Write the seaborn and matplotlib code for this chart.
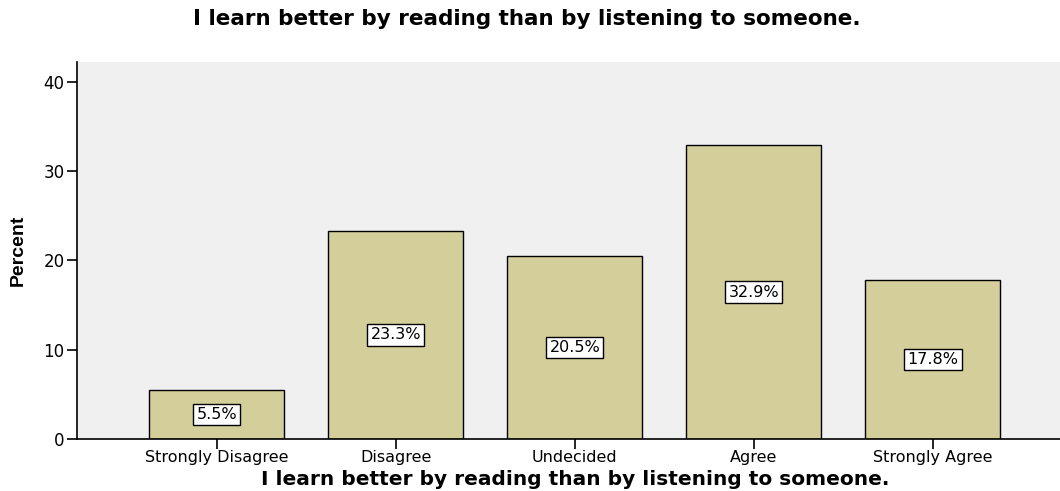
import matplotlib
matplotlib.use("Agg")
import matplotlib.pyplot as plt
import seaborn as sns
import pandas as pd

categories = ["Strongly Disagree", "Disagree", "Undecided", "Agree", "Strongly Agree"]
percents = [5.5, 23.3, 20.5, 32.9, 17.8]
yticks = [0, 10, 20, 30, 40]
title = "I learn better by reading than by listening to someone."

sns.set_style("white")
plt.rcParams["font.family"] = ["DejaVu Sans"]
plt.rcParams["text.color"] = "black"
plt.rcParams["axes.labelcolor"] = "black"
plt.rcParams["xtick.color"] = "black"
plt.rcParams["ytick.color"] = "black"

df = pd.DataFrame({"cat": categories, "pct": percents})

fig = plt.figure(figsize=(10.6, 4.91), dpi=100)
ax = fig.add_axes([77/1060, 52/491, 1 - 77/1060, (439-62)/491])
ax.set_facecolor("#F0F0F0")

sns.barplot(data=df, x="cat", y="pct", color="#D3CE9A", saturation=1,
            width=0.754, edgecolor="black", linewidth=1.0, ax=ax)

for i, v in enumerate(percents):
    ax.text(i, v / 2, f"{v}%", ha="center", va="center", fontsize=11.5, color="black",
            bbox=dict(boxstyle="square,pad=0.2", facecolor="white", edgecolor="black", linewidth=1.0))

ax.set_xlim(-0.78, 4.71)
ax.set_ylim(0, 42.2)
ax.set_yticks(yticks)
ax.set_yticklabels([str(t) for t in yticks], fontsize=12)
ax.tick_params(axis="both", direction="out", length=7, width=1.2, color="black",
               labelcolor="black", bottom=True, left=True, pad=2)
ax.tick_params(axis="x", labelsize=11.5, pad=1)

for s in ["top", "right"]:
    ax.spines[s].set_visible(False)
for s in ["left", "bottom"]:
    ax.spines[s].set_color("black")
    ax.spines[s].set_linewidth(1.2)

ax.set_xlabel(title, fontsize=14.5, fontweight="bold", color="black")
ax.xaxis.set_label_coords((575 - 77) / (1060 - 77), -(470 - 439) / 377)
ax.set_ylabel("Percent", fontsize=14, fontweight="bold", labelpad=12, color="black",
              family=["Liberation Sans Narrow", "Liberation Sans", "DejaVu Sans"])
fig.text(527 / 1060, 0.962, title, ha="center", va="center", fontsize=15.5, fontweight="bold", color="black")

fig.savefig("out.png", dpi=100)
